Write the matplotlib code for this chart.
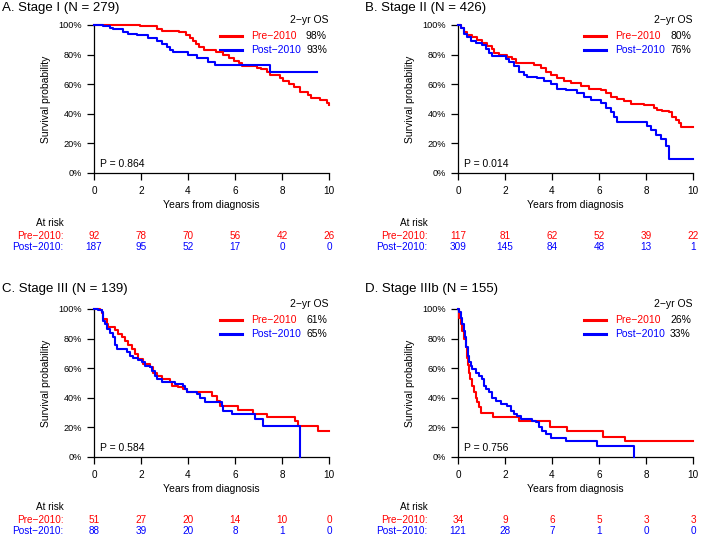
import matplotlib
matplotlib.use("Agg")
import matplotlib.pyplot as plt

plt.rcParams["font.family"] = ["Liberation Sans", "DejaVu Sans"]

RED = "#FF0000"
BLUE = "#0000FF"

years = [0, 2, 4, 6, 8, 10]
surv_ticks = [0, 20, 40, 60, 80, 100]

titles = ["A. Stage I (N = 279)", "B. Stage II (N = 426)",
          "C. Stage III (N = 139)", "D. Stage IIIb (N = 155)"]
p_values = ["0.864", "0.014", "0.584", "0.756"]
os2_pre = ["98%", "80%", "61%", "26%"]
os2_post = ["93%", "76%", "65%", "33%"]

risk_pre = [[92, 78, 70, 56, 42, 26],
            [117, 81, 62, 52, 39, 22],
            [51, 27, 20, 14, 10, 0],
            [34, 9, 6, 5, 3, 3]]
risk_post = [[187, 95, 52, 17, 0, 0],
             [309, 145, 84, 48, 13, 1],
             [88, 39, 20, 8, 1, 0],
             [121, 28, 7, 1, 0, 0]]

# Kaplan-Meier step points (years, % surviving)
a_pre_t = [0, 1.95, 2.7, 2.9, 3.6, 3.9, 4.1, 4.2, 4.35, 4.45, 4.7, 5.2, 5.5, 5.75, 5.95,
           6.15, 6.3, 6.95, 7.1, 7.35, 7.5, 7.9, 8.05, 8.3, 8.5, 8.75, 9.1, 9.25, 9.6, 9.9, 10]
a_pre_s = [100, 99, 97.5, 96, 95, 93, 91, 89, 87, 85, 83, 82, 80, 78, 76,
           74, 72, 71, 70, 68, 66, 64, 62, 60, 58, 55, 53, 51, 49, 47.5, 46]
a_post_t = [0, 0.4, 0.68, 0.82, 1.25, 1.46, 1.82, 2.31, 2.67, 2.88, 3.09, 3.23, 3.38,
            4.01, 4.37, 4.87, 5.15, 7.49, 9.48]
a_post_s = [100, 99, 98, 97, 95.5, 94, 93, 91, 89, 87, 85, 83, 82,
            80, 77.5, 75, 72.7, 68.5, 68.5]

b_pre_t = [0, 0.11, 0.26, 0.40, 0.61, 0.82, 1.04, 1.25, 1.46, 1.53, 1.74, 2.10, 2.31, 2.45,
           2.88, 3.23, 3.52, 3.73, 3.94, 4.23, 4.51, 4.79, 5.22, 5.57, 6.07, 6.28, 6.50, 6.78,
           7.06, 7.35, 7.91, 8.34, 8.48, 8.70, 8.98, 9.12, 9.26, 9.40, 9.48, 10]
b_pre_s = [100, 98, 95.5, 93, 91.7, 90, 87.6, 86, 84, 81, 80, 78.6, 77, 74.5,
           74, 73, 71, 68.5, 66, 64, 62, 61, 59, 57, 56, 54, 51.5, 50,
           48.6, 46.6, 46, 44, 42.5, 42, 41, 38, 36, 33.5, 31, 31]
b_post_t = [0, 0.11, 0.26, 0.40, 0.54, 0.75, 1.04, 1.18, 1.32, 1.46, 2.03, 2.17, 2.38, 2.60,
            2.81, 2.95, 3.38, 3.66, 3.94, 4.23, 4.58, 5.08, 5.36, 5.65, 6.07, 6.28, 6.50,
            6.64, 6.78, 8.06, 8.20, 8.41, 8.62, 8.84, 8.98, 10]
b_post_s = [100, 98, 94, 92, 89, 87.6, 86.5, 84, 81, 79, 77, 75, 72, 68.5,
            66, 64.6, 64, 62, 60, 57, 56, 53.8, 51.5, 49, 47, 44, 41,
            38, 34.7, 31.5, 29, 25.5, 22.7, 18, 9.2, 9.2]

c_pre_t = [0, 0.26, 0.33, 0.40, 0.54, 0.61, 0.89, 1.04, 1.18, 1.32, 1.46, 1.60, 1.74, 1.89,
           2.10, 2.38, 2.52, 2.67, 2.88, 3.23, 3.30, 3.59, 3.80, 3.94, 5.01, 5.22, 5.36,
           6.14, 6.78, 7.35, 8.55, 8.70, 9.55, 10]
c_pre_s = [100, 99, 97, 93, 90, 87.6, 86, 83, 81, 78.6, 76, 73, 69.6, 66,
           62.8, 60.6, 57, 55, 53, 50.5, 48, 47, 46, 43.7, 41.4, 38, 34.7,
           31.8, 29, 27, 24.5, 21, 17.8, 17.8]
c_post_t = [0, 0.18, 0.33, 0.40, 0.47, 0.54, 0.68, 0.82, 0.89, 0.96, 1.39, 1.53, 1.67, 1.89,
            2.03, 2.17, 2.38, 2.45, 2.60, 2.67, 2.88, 3.45, 3.80, 3.87, 3.94, 4.37, 4.51,
            4.72, 5.43, 5.50, 5.86, 6.85, 7.21, 8.77]
c_post_s = [100, 99, 98, 92, 90, 86.5, 84, 81, 76, 73, 70.7, 68.5, 67, 65.5,
            64, 61.7, 60.5, 58, 55, 52.7, 51, 49, 48, 46, 43.7, 42.5, 40,
            36.9, 34.7, 31, 29, 25.5, 21, 0]

d_pre_t = [0, 0.04, 0.11, 0.18, 0.26, 0.33, 0.37, 0.43, 0.47, 0.51, 0.61, 0.68, 0.75, 0.82,
           0.89, 0.96, 1.50, 2.60, 3.91, 4.65, 6.18, 7.09, 10]
d_pre_s = [100, 94, 90, 85, 80, 74, 67, 62, 57, 53, 48, 44, 39.6, 37,
           33.5, 30, 27, 24.5, 20.5, 17.3, 13.7, 10.8, 10.8]
d_post_t = [0, 0.04, 0.11, 0.18, 0.26, 0.30, 0.35, 0.43, 0.47, 0.54, 0.61, 0.75, 0.89, 1.04,
            1.11, 1.18, 1.32, 1.46, 1.60, 1.82, 2.10, 2.24, 2.38, 2.52, 2.67, 3.16, 3.30,
            3.45, 3.59, 3.73, 3.94, 4.58, 5.93, 7.49]
d_post_s = [100, 98, 94, 90, 85, 81, 74, 68.5, 64, 61.7, 59.5, 57, 55, 52.7,
            48, 46, 43.7, 40, 38, 35.8, 34.7, 31, 29, 28, 25.5, 24.5, 23.4,
            20, 17.8, 15.5, 12.8, 10.8, 7.2, 0]

curves = [(a_pre_t, a_pre_s, a_post_t, a_post_s),
          (b_pre_t, b_pre_s, b_post_t, b_post_s),
          (c_pre_t, c_pre_s, c_post_t, c_post_s),
          (d_pre_t, d_pre_s, d_post_t, d_post_s)]

W, H = 701, 536
# axes boxes in pixels: (left, top, right, bottom)
boxes = [(94, 25, 329, 173), (458, 25, 693, 173),
         (94, 309, 329, 457), (458, 309, 693, 457)]
title_pos = [(2, 8), (365, 8), (2, 289), (365, 289)]

fig = plt.figure(figsize=(W / 100, H / 100), dpi=100)

for i in range(4):
    l, t, r, b = boxes[i]
    ax = fig.add_axes([l / W, 1 - b / H, (r - l) / W, (b - t) / H])
    pre_t, pre_s, post_t, post_s = curves[i]
    ax.step(pre_t, pre_s, where="post", color=RED, lw=1.5, clip_on=False, zorder=3)
    ax.step(post_t, post_s, where="post", color=BLUE, lw=1.5, clip_on=False, zorder=3)

    ax.set_xlim(0, 10)
    ax.set_ylim(0, 100)
    ax.set_xticks(years)
    ax.set_yticks(surv_ticks)
    ax.set_yticklabels([f"{v}%" for v in surv_ticks])
    ax.spines["top"].set_visible(False)
    ax.spines["right"].set_visible(False)
    for s in ("left", "bottom"):
        ax.spines[s].set_linewidth(0.9)
    ax.tick_params(direction="out", length=5, width=0.9, labelsize=7.2, pad=4.5)
    ax.tick_params(axis="y", labelsize=6.6, pad=3.5)
    ax.set_xlabel("Years from diagnosis", fontsize=7.5)
    ax.xaxis.set_label_coords(0.5, -0.18)
    ax.set_ylabel("Survival probability", fontsize=7.5)
    ax.yaxis.set_label_coords(-0.185, 0.5)

    # legend
    ax.text(1.0, 1.034, "2\u2212yr OS", transform=ax.transAxes, ha="right", va="center", fontsize=7.5)
    for yy, col, name, val in [(0.926, RED, "Pre\u22122010", os2_pre[i]),
                               (0.831, BLUE, "Post\u22122010", os2_post[i])]:
        ax.plot([0.536, 0.63], [yy, yy], transform=ax.transAxes, color=col, lw=2.2, clip_on=False)
        ax.text(0.668, yy, name, transform=ax.transAxes, ha="left", va="center", fontsize=7.5, color=col)
        ax.text(0.991, yy, val, transform=ax.transAxes, ha="right", va="center", fontsize=7.5)

    ax.text(0.026, 0.061, f"P = {p_values[i]}", transform=ax.transAxes, ha="left", va="center", fontsize=7.5)

    # at-risk table
    tr = ax.get_xaxis_transform()
    ax.text(-0.13, -0.338, "At risk", transform=ax.transAxes, ha="right", va="center", fontsize=7.2)
    ax.text(-0.13, -0.423, "Pre\u22122010:", transform=ax.transAxes, ha="right", va="center",
            fontsize=7.2, color=RED)
    ax.text(-0.13, -0.503, "Post\u22122010:", transform=ax.transAxes, ha="right", va="center",
            fontsize=7.2, color=BLUE)
    for x, n1, n2 in zip(years, risk_pre[i], risk_post[i]):
        ax.text(x, -0.423, str(n1), transform=tr, ha="center", va="center", fontsize=7.2, color=RED)
        ax.text(x, -0.503, str(n2), transform=tr, ha="center", va="center", fontsize=7.2, color=BLUE)

    tx, ty = title_pos[i]
    fig.text(tx / W, 1 - ty / H, titles[i], ha="left", va="center", fontsize=9.5)

fig.savefig("out.png", dpi=100)
